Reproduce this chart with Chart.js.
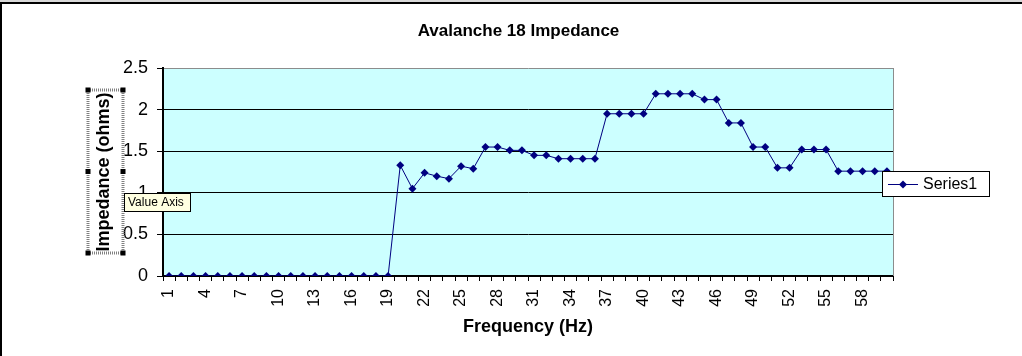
<!DOCTYPE html>
<html><head><meta charset="utf-8">
<script src="https://cdn.jsdelivr.net/npm/chart.js@4.4.1/dist/chart.umd.min.js"></script>
<style>html,body{margin:0;padding:0;background:#fff;overflow:hidden}#wrap{position:relative;width:1022px;height:356px}</style>
</head><body><div id="wrap"><canvas id="c" width="1022" height="356"></canvas></div>
<script>
const chartTitle = 'Avalanche 18 Impedance';
const xAxisTitle = 'Frequency (Hz)';
const yAxisTitle = 'Impedance (ohms)';
const seriesName = 'Series1';
const tooltipText = 'Value Axis';
const categories = [1,2,3,4,5,6,7,8,9,10,11,12,13,14,15,16,17,18,19,20,21,22,23,24,25,26,27,28,29,30,31,32,33,34,35,36,37,38,39,40,41,42,43,44,45,46,47,48,49,50,51,52,53,54,55,56,57,58,59,60];
const shownTickLabels = [1,4,7,10,13,16,19,22,25,28,31,34,37,40,43,46,49,52,55,58];
const impedance = [0,0,0,0,0,0,0,0,0,0,0,0,0,0,0,0,0,0,0,
  1.33,1.05,1.24,1.20,1.17,1.32,1.29,1.55,1.55,1.51,1.51,1.45,1.45,1.41,1.41,1.41,1.41,
  1.95,1.95,1.95,1.95,2.19,2.19,2.19,2.19,2.12,2.12,1.84,1.84,1.55,1.55,1.30,1.30,
  1.52,1.52,1.52,1.26,1.26,1.26,1.26,1.26];
const yMin = 0, yMax = 2.5, yStep = 0.5;

const FONT = '"Liberation Sans", Arial, sans-serif';
const NAVY = '#000080';
const PLOT_BG = '#CCFFFF';

const decor = {
  id: 'decor',
  beforeDraw(chart) {
    const ctx = chart.ctx, a = chart.chartArea;
    ctx.save();
    ctx.fillStyle = '#fff';
    ctx.fillRect(0, 0, chart.width, chart.height);
    ctx.fillStyle = '#d8d8d8';
    ctx.fillRect(0, 0, chart.width, 2);
    ctx.fillStyle = '#000';
    ctx.fillRect(0, 2, chart.width, 2);
    ctx.fillRect(0, 2, 2, chart.height);
    ctx.fillStyle = PLOT_BG;
    ctx.fillRect(a.left, a.top, a.right - a.left, a.bottom - a.top);
    ctx.restore();
  },
  afterDraw(chart) {
    const ctx = chart.ctx, a = chart.chartArea;
    ctx.save();
    ctx.strokeStyle = '#8c8c8c';
    ctx.lineWidth = 1;
    ctx.beginPath();
    ctx.moveTo(a.right + 0.5, a.top);
    ctx.lineTo(a.right + 0.5, a.bottom);
    ctx.stroke();
    // chart title
    ctx.fillStyle = '#000';
    ctx.font = 'bold 17px ' + FONT;
    ctx.textAlign = 'center';
    ctx.textBaseline = 'middle';
    ctx.fillText(chartTitle, 518.5, 31);
    // selection frame around axis title
    const sx = 88, sy = 90, sw = 35, sh = 163;
    ctx.strokeStyle = '#808080';
    ctx.lineWidth = 3;
    ctx.setLineDash([1, 1]);
    ctx.strokeRect(sx, sy, sw, sh);
    ctx.setLineDash([]);
    ctx.fillStyle = '#000';
    const hs = 5;
    [[sx, sy], [sx + sw, sy], [sx, sy + sh / 2], [sx + sw, sy + sh / 2], [sx, sy + sh], [sx + sw, sy + sh]].forEach(p => {
      ctx.fillRect(p[0] - hs / 2, p[1] - hs / 2, hs, hs);
    });
    // tooltip
    ctx.fillStyle = '#FFFFE1';
    ctx.fillRect(124.5, 193.5, 66, 18);
    ctx.strokeStyle = '#000';
    ctx.lineWidth = 1;
    ctx.strokeRect(124.5, 193.5, 66, 18);
    ctx.fillStyle = '#000';
    ctx.font = '12px ' + FONT;
    ctx.textAlign = 'left';
    ctx.textBaseline = 'middle';
    ctx.fillText(tooltipText, 128, 203);
    // legend
    ctx.fillStyle = '#fff';
    ctx.fillRect(882.5, 171.5, 107, 25);
    ctx.strokeStyle = '#000';
    ctx.strokeRect(882.5, 171.5, 107, 25);
    ctx.strokeStyle = NAVY;
    ctx.beginPath();
    ctx.moveTo(888, 184.5);
    ctx.lineTo(918, 184.5);
    ctx.stroke();
    ctx.fillStyle = NAVY;
    ctx.beginPath();
    ctx.moveTo(903, 180.5); ctx.lineTo(907, 184.5); ctx.lineTo(903, 188.5); ctx.lineTo(899, 184.5);
    ctx.closePath(); ctx.fill();
    ctx.fillStyle = '#000';
    ctx.font = '16px ' + FONT;
    ctx.textAlign = 'left';
    ctx.fillText(seriesName, 923, 185);
    ctx.restore();
  }
};

new Chart(document.getElementById('c'), {
  type: 'line',
  data: {
    labels: categories,
    datasets: [{
      label: seriesName,
      data: impedance,
      borderColor: NAVY,
      backgroundColor: NAVY,
      borderWidth: 1,
      pointStyle: 'rectRot',
      pointRadius: 4,
      pointBorderWidth: 0,
      pointBackgroundColor: NAVY,
      tension: 0,
      fill: false
    }]
  },
  options: {
    responsive: false,
    animation: false,
    events: [],
    layout: { padding: { left: 0, right: 129, top: 68, bottom: 0 } },
    plugins: { legend: { display: false }, title: { display: false }, tooltip: { enabled: false } },
    scales: {
      x: {
        type: 'category',
        offset: true,
        grid: { offset: true, drawOnChartArea: false, drawTicks: true, tickLength: 5, color: '#000', lineWidth: 1 },
        border: { display: true, color: '#000', width: 2 },
        ticks: {
          autoSkip: false, minRotation: 90, maxRotation: 90, padding: 8,
          color: '#000', font: { family: FONT, size: 16 },
          callback: function(v, i) { const c = categories[i]; return shownTickLabels.includes(c) ? String(c) : ''; }
        },
        title: { display: true, text: xAxisTitle, color: '#000', font: { family: FONT, size: 18, weight: 'bold' }, padding: { top: 0, bottom: 18 } },
        afterFit(s) { s.height = 80; }
      },
      y: {
        min: yMin, max: yMax,
        grid: { color: ctx => (ctx.tick && ctx.tick.value === yMax) ? '#8c8c8c' : '#000', lineWidth: 1, tickLength: 6, drawTicks: true,
                tickColor: '#000' },
        border: { display: true, color: '#000', width: 2 },
        ticks: { stepSize: yStep, padding: 9, color: '#000', font: { family: FONT, size: 18 },
                 callback: v => String(v) },
        title: { display: true, text: yAxisTitle, color: '#000', font: { family: FONT, size: 18, weight: 'bold' }, padding: { top: 93, bottom: 0 } },
        afterFit(s) { s.width = 163; }
      }
    }
  },
  plugins: [decor]
});
</script></body></html>
